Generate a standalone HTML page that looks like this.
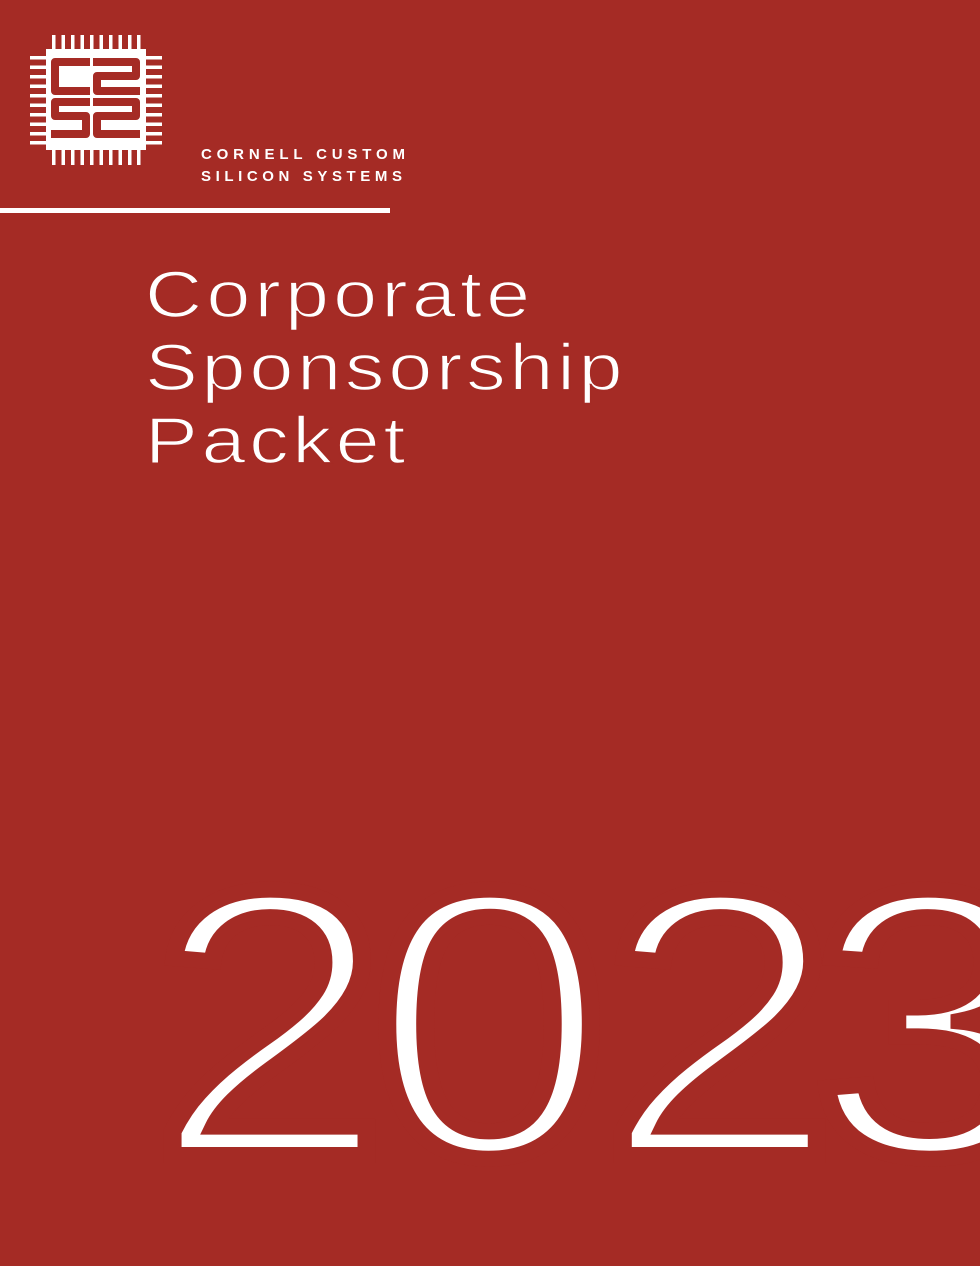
<!DOCTYPE html>
<html>
<head>
<meta charset="utf-8">
<style>
  html,body{margin:0;padding:0;background:#a52b25;}
  svg{display:block;}
  text{font-family:"Liberation Sans", sans-serif;}
</style>
</head>
<body>
<svg width="980" height="1266" viewBox="0 0 980 1266">
  <rect x="0" y="0" width="980" height="1266" fill="#a52b25"/>

  <g>
    <rect x="46" y="49" width="100" height="101" fill="#fff"/>
    <g fill="#fff">
      <rect x="52" y="35" width="3.5" height="16"/><rect x="61.5" y="35" width="3.5" height="16"/>
      <rect x="71" y="35" width="3.5" height="16"/><rect x="80.5" y="35" width="3.5" height="16"/>
      <rect x="90" y="35" width="3.5" height="16"/><rect x="99.5" y="35" width="3.5" height="16"/>
      <rect x="109" y="35" width="3.5" height="16"/><rect x="118.5" y="35" width="3.5" height="16"/>
      <rect x="128" y="35" width="3.5" height="16"/><rect x="137" y="35" width="3.5" height="16"/>
      <rect x="52" y="149" width="3.5" height="16"/><rect x="61.5" y="149" width="3.5" height="16"/>
      <rect x="71" y="149" width="3.5" height="16"/><rect x="80.5" y="149" width="3.5" height="16"/>
      <rect x="90" y="149" width="3.5" height="16"/><rect x="99.5" y="149" width="3.5" height="16"/>
      <rect x="109" y="149" width="3.5" height="16"/><rect x="118.5" y="149" width="3.5" height="16"/>
      <rect x="128" y="149" width="3.5" height="16"/><rect x="137" y="149" width="3.5" height="16"/>
      <rect x="30" y="56" width="18" height="3.5"/><rect x="30" y="65.5" width="18" height="3.5"/>
      <rect x="30" y="75" width="18" height="3.5"/><rect x="30" y="84.5" width="18" height="3.5"/>
      <rect x="30" y="94" width="18" height="3.5"/><rect x="30" y="103.5" width="18" height="3.5"/>
      <rect x="30" y="113" width="18" height="3.5"/><rect x="30" y="122.5" width="18" height="3.5"/>
      <rect x="30" y="132" width="18" height="3.5"/><rect x="30" y="141" width="18" height="3.5"/>
      <rect x="144" y="56" width="18" height="3.5"/><rect x="144" y="65.5" width="18" height="3.5"/>
      <rect x="144" y="75" width="18" height="3.5"/><rect x="144" y="84.5" width="18" height="3.5"/>
      <rect x="144" y="94" width="18" height="3.5"/><rect x="144" y="103.5" width="18" height="3.5"/>
      <rect x="144" y="113" width="18" height="3.5"/><rect x="144" y="122.5" width="18" height="3.5"/>
      <rect x="144" y="132" width="18" height="3.5"/><rect x="144" y="141" width="18" height="3.5"/>
    </g>
    <g fill="none" stroke="#a52b25" stroke-width="8" stroke-linejoin="round" stroke-linecap="butt">
      <polyline points="90,62 55,62 55,91 90,91"/>
      <polyline points="93,62 136,62 136,76 97,76 97,91 140,91"/>
      <polyline points="90,102 55,102 55,116 86,116 86,134 51,134"/>
      <polyline points="93,102 136,102 136,116 97,116 97,134 140,134"/>
    </g>
  </g>

  <text x="201" y="159" font-size="15" font-weight="bold" fill="#fff" textLength="204" lengthAdjust="spacing">CORNELL CUSTOM</text>
  <text x="201" y="181" font-size="15" font-weight="bold" fill="#fff" textLength="201" lengthAdjust="spacing">SILICON SYSTEMS</text>

  <rect x="0" y="208" width="390" height="5" fill="#fff"/>

  <g transform="translate(145,0) scale(1.2,1)" fill="#fff" stroke="#a52b25" stroke-width="1.5" font-size="66">
    <text x="0" y="317" textLength="321" lengthAdjust="spacing">Corporate</text>
    <text x="0" y="390" textLength="398" lengthAdjust="spacing">Sponsorship</text>
    <text x="0" y="463" textLength="217" lengthAdjust="spacing">Packet</text>
  </g>

  <g transform="scale(1.12,1)">
    <text x="135 331 537 724" y="1155" font-size="380" fill="#fff" stroke="#a52b25" stroke-width="16">2023</text>
  </g>
</svg>
</body>
</html>
